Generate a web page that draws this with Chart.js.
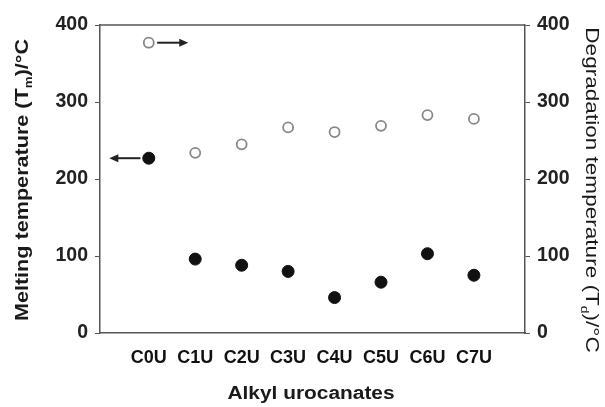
<!DOCTYPE html>
<html>
<head>
<meta charset="utf-8">
<script src="https://cdn.jsdelivr.net/npm/chart.js@4.4.1/dist/chart.umd.min.js"></script>
<style>
  html, body { margin: 0; padding: 0; background: #fff; }
  #wrap { width: 605px; height: 407px; }
</style>
</head>
<body>
<div id="wrap"><canvas id="chart" width="605" height="407"></canvas></div>
<script>
// Data
const categories = ['C0U', 'C1U', 'C2U', 'C3U', 'C4U', 'C5U', 'C6U', 'C7U'];
const meltingTemp = [227, 96, 88, 80, 46, 66, 103, 75];
const degradationTemp = [377, 234, 245, 267, 261, 269, 283, 278];
const yTicks = [0, 100, 200, 300, 400];

const FONT = '"Liberation Sans", Arial, sans-serif';
const AXIS_COLOR = '#555';

const toPoints = arr => arr.map((v, i) => ({ x: i, y: v }));

// Draws axis titles (with subscripts) and the two pointer arrows
const annotations = {
    id: 'annotations',
    afterDraw(chart) {
        const ctx = chart.ctx;
        const area = chart.chartArea;
        const x = chart.scales.x, yL = chart.scales.y, yR = chart.scales.y2;

        // text drawn a bit wider than the font, like the scanned figure
        function drawRich(parts, cx, cy, rot, weight, size, stretch) {
            ctx.save();
            ctx.translate(cx, cy);
            ctx.rotate(rot);
            ctx.scale(stretch, 1);
            ctx.fillStyle = '#1a1a1a';
            ctx.textBaseline = 'middle';
            ctx.textAlign = 'left';
            let total = 0;
            parts.forEach(p => {
                ctx.font = `${weight} ${p.sub ? size * 0.62 : size}px ${FONT}`;
                total += ctx.measureText(p.t).width;
            });
            let pos = -total / 2;
            parts.forEach(p => {
                ctx.font = `${weight} ${p.sub ? size * 0.62 : size}px ${FONT}`;
                ctx.fillText(p.t, pos, p.sub ? size * 0.35 : 0);
                pos += ctx.measureText(p.t).width;
            });
            ctx.restore();
        }

        drawRich([{ t: 'Melting temperature (T' }, { t: 'm', sub: true }, { t: ')/°C' }],
            23, 180, -Math.PI / 2, 'bold', 18, 1.2);
        drawRich([{ t: 'Degradation temperature (T' }, { t: 'd', sub: true }, { t: ')/°C' }],
            591, 190, Math.PI / 2, 'normal', 18.5, 1.22);
        drawRich([{ t: 'Alkyl urocanates' }],
            311, 394, 0, 'bold', 18, 1.16);

        function arrow(x0, x1, yPix) {
            const px0 = x.getPixelForValue(x0), px1 = x.getPixelForValue(x1);
            const dir = Math.sign(px1 - px0);
            ctx.save();
            ctx.strokeStyle = '#222';
            ctx.fillStyle = '#222';
            ctx.lineWidth = 2;
            ctx.beginPath();
            ctx.moveTo(px0, yPix);
            ctx.lineTo(px1 - dir * 6, yPix);
            ctx.stroke();
            ctx.beginPath();
            ctx.moveTo(px1, yPix);
            ctx.lineTo(px1 - dir * 9, yPix - 4);
            ctx.lineTo(px1 - dir * 9, yPix + 4);
            ctx.closePath();
            ctx.fill();
            ctx.restore();
        }
        arrow(0.18, 0.85, yR.getPixelForValue(degradationTemp[0]));
        arrow(-0.18, -0.85, yL.getPixelForValue(meltingTemp[0]));
    }
};

new Chart(document.getElementById('chart'), {
    type: 'scatter',
    data: {
        datasets: [
            {
                label: 'Melting temperature',
                data: toPoints(meltingTemp),
                yAxisID: 'y',
                pointRadius: 6,
                pointBackgroundColor: '#111',
                pointBorderColor: '#111',
                pointBorderWidth: 1
            },
            {
                label: 'Degradation temperature',
                data: toPoints(degradationTemp),
                yAxisID: 'y2',
                pointRadius: 5,
                pointBackgroundColor: '#fff',
                pointBorderColor: '#888',
                pointBorderWidth: 1.8
            }
        ]
    },
    options: {
        responsive: false,
        animation: false,
        layout: { padding: { top: 25, left: 0, right: 0, bottom: 0 } },
        plugins: {
            legend: { display: false },
            tooltip: { enabled: false }
        },
        scales: {
            x: {
                type: 'linear',
                min: -1.05,
                max: 8.1,
                afterBuildTicks: s => { s.ticks = categories.map((c, i) => ({ value: i })); },
                afterFit: s => { s.height = 74; },
                ticks: {
                    callback: v => categories[v] || '',
                    color: '#111',
                    font: { family: FONT, size: 18, weight: 'bold' },
                    padding: 14,
                    maxRotation: 0,
                    autoSkip: false
                },
                grid: { display: false, drawTicks: false },
                border: { display: true, color: AXIS_COLOR, width: 1.5 }
            },
            y: {
                position: 'left',
                min: 0,
                max: 400,
                afterBuildTicks: s => { s.ticks = yTicks.map(v => ({ value: v })); },
                afterFit: s => { s.width = 100; },
                ticks: {
                    color: '#222',
                    font: { family: FONT, size: 19.5, weight: 'bold' },
                    padding: 7
                },
                grid: { drawOnChartArea: false, tickLength: 5, color: AXIS_COLOR },
                border: { display: true, color: AXIS_COLOR, width: 1.5 }
            },
            y2: {
                position: 'right',
                min: 0,
                max: 400,
                afterBuildTicks: s => { s.ticks = yTicks.map(v => ({ value: v })); },
                afterFit: s => { s.width = 80; },
                ticks: {
                    color: '#222',
                    font: { family: FONT, size: 19.5, weight: 'bold' },
                    padding: 7
                },
                grid: { drawOnChartArea: false, tickLength: 5, color: AXIS_COLOR },
                border: { display: true, color: AXIS_COLOR, width: 1.5 }
            }
        }
    },
    plugins: [annotations, {
        id: 'topBorder',
        beforeDatasetsDraw(chart) {
            const { ctx, chartArea: a } = chart;
            ctx.save();
            ctx.strokeStyle = AXIS_COLOR;
            ctx.lineWidth = 1.5;
            ctx.beginPath();
            ctx.moveTo(a.left, a.top);
            ctx.lineTo(a.right, a.top);
            ctx.stroke();
            ctx.restore();
        }
    }]
});
</script>
</body>
</html>
